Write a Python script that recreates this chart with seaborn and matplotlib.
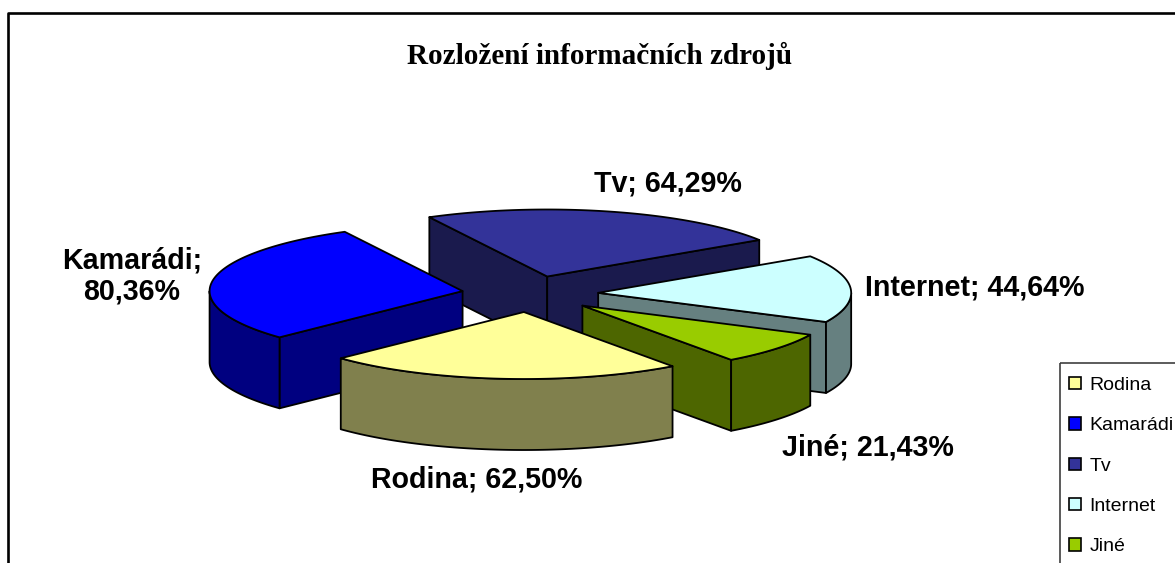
import numpy as np
import matplotlib
matplotlib.use("Agg")
import matplotlib.pyplot as plt
from matplotlib.patches import Patch, Rectangle
import seaborn as sns

# Data
categories = ["Rodina", "Kamarádi", "Tv", "Internet", "Jiné"]
values = [62.50, 80.36, 64.29, 44.64, 21.43]
value_labels = ["62,50%", "80,36%", "64,29%", "44,64%", "21,43%"]
title = "Rozložení informačních zdrojů"

sns.set_theme(style="white")
plt.rcParams["font.family"] = ["Liberation Sans", "DejaVu Sans"]

colors = sns.color_palette(["#FFFF99", "#0000FF", "#333399", "#CCFFFF", "#99CC00"])
sides = [tuple(c * 0.5 for c in col) for col in colors]

# Pie geometry, in pixels of the output picture
cx, cy = 530, 294
rx, ry = 253, 67
depth = 71
explode = 0.27
start_angle = 54

fig = plt.figure(figsize=(11.75, 5.63), dpi=100)
ax = fig.add_axes([0, 0, 1, 1])
ax.set_xlim(0, 1175)
ax.set_ylim(563, 0)
ax.axis("off")

# Chart border, runs off the right and bottom of the picture
ax.plot([8, 8, 1180], [570, 13, 13], color="black", lw=1.9, clip_on=False)

spans = np.array(values) / sum(values) * 360
starts = start_angle + np.concatenate([[0], np.cumsum(spans)[:-1]])


def wedge_points(i):
    mid = np.radians(starts[i] + spans[i] / 2)
    ax0 = cx + explode * rx * np.cos(mid)
    ay0 = cy + explode * ry * np.sin(mid)
    t = np.radians(np.linspace(starts[i], starts[i] + spans[i], 200))
    return ax0, ay0, t


def draw_wedge(i):
    ax0, ay0, t = wedge_points(i)
    xs = ax0 + rx * np.cos(t)
    ys = ay0 + ry * np.sin(t)
    style = dict(facecolor=sides[i], edgecolor="black", linewidth=1.3, joinstyle="round")

    # Flat cut faces, only those turned to the viewer
    if xs[0] < ax0:
        ax.fill([ax0, xs[0], xs[0], ax0], [ay0, ys[0], ys[0] + depth, ay0 + depth], **style)
    if xs[-1] > ax0:
        ax.fill([ax0, xs[-1], xs[-1], ax0], [ay0, ys[-1], ys[-1] + depth, ay0 + depth], **style)

    # Curved rim, front half only
    front = np.sin(t) >= 0
    if front.any():
        fx, fy = xs[front], ys[front]
        ax.fill(np.r_[fx, fx[::-1]], np.r_[fy, fy[::-1] + depth], **style)

    # Top
    ax.fill(np.r_[ax0, xs], np.r_[ay0, ys], facecolor=colors[i], edgecolor="black",
            linewidth=1.3, joinstyle="round")


# Back to front
for i in [2, 1, 3, 4, 0]:
    draw_wedge(i)

label_font = dict(fontsize=20.6, fontweight="bold", color="black", ha="center", va="center")
ax.text(477, 480, f"{categories[0]}; {value_labels[0]}", **label_font)
ax.text(132, 276, f"{categories[1]};\n{value_labels[1]}", linespacing=1.15, **label_font)
ax.text(668, 184, f"{categories[2]}; {value_labels[2]}", **label_font)
ax.text(975, 287, f"{categories[3]}; {value_labels[3]}", **label_font)
ax.text(868, 448, f"{categories[4]}; {value_labels[4]}", **label_font)

ax.text(600, 56, title, family="Liberation Serif", fontsize=21, fontweight="bold",
        color="black", ha="center", va="center")

# Legend box, also running off the picture
ax.add_patch(Rectangle((1060, 363), 130, 215, fill=False, edgecolor="#404040", linewidth=1.2,
                       clip_on=False))
handles = [Patch(facecolor=c, edgecolor="black", linewidth=1.2) for c in colors]
leg = ax.legend(handles, categories, loc="upper left", bbox_to_anchor=(1060, 368),
                bbox_transform=ax.transData, fontsize=14, frameon=False, borderaxespad=0,
                borderpad=0.46, labelspacing=1.2, handlelength=0.6, handleheight=0.6,
                handletextpad=0.46)
for text in leg.get_texts():
    text.set_color("black")

fig.savefig("out.png", dpi=100)
